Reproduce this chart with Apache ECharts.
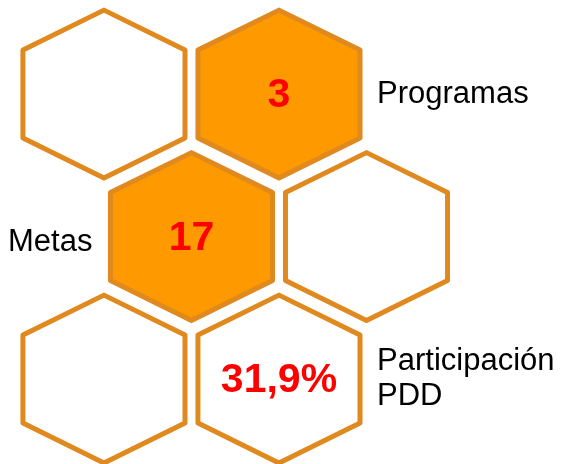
<!DOCTYPE html>
<html>
<head>
<meta charset="utf-8">
<script src="https://cdn.jsdelivr.net/npm/echarts@6/dist/echarts.min.js"></script>
<style>
  html, body { margin: 0; padding: 0; background: #fff; }
  #main { width: 562px; height: 464px; }
</style>
</head>
<body>
<div id="main"></div>
<script>
// honeycomb cells: lattice column / row
const hexCol = [0, 1, 0.5, 1.5, 0, 1]
const hexRow = [0, 0, 1, 1, 2, 2]
const hexFilled = [0, 1, 1, 0, 0, 0]
const hexValues = ['', '3', '17', '', '', '31,9%']
const hexLabels = ['', 'Programas', 'Metas', '', '', 'Participación\nPDD']

const FILL = '#FE9900'
const STROKE = '#E0891E'

const chart = echarts.init(document.getElementById('main'))

chart.setOption({
  animation: false,
  grid: { left: 0, right: 0, top: 0, bottom: 0 },
  xAxis: { type: 'value', min: -0.594, max: 2.617, show: false },
  yAxis: { type: 'value', min: -0.66, max: 2.596, inverse: true, show: false },
  series: [{
    type: 'custom',
    coordinateSystem: 'cartesian2d',
    data: hexCol.map((c, i) => [c, hexRow[i], hexFilled[i]]),
    renderItem(params, api) {
      const i = params.dataIndex
      const p = api.coord([api.value(0), api.value(1)])
      const unit = api.size([1, 1])
      const hw = unit[0] * 0.463
      const hh = unit[1] * 0.589
      const sh = unit[1] * 0.309
      const cx = p[0]
      const cy = p[1]
      const children = [{
        type: 'polygon',
        shape: {
          points: [
            [cx, cy - hh], [cx + hw, cy - sh], [cx + hw, cy + sh],
            [cx, cy + hh], [cx - hw, cy + sh], [cx - hw, cy - sh]
          ]
        },
        style: {
          fill: api.value(2) ? FILL : '#fff',
          stroke: STROKE,
          lineWidth: 5,
          lineJoin: 'round'
        }
      }]
      if (hexValues[i]) {
        children.push({
          type: 'text',
          x: cx,
          y: cy + 2,
          style: {
            text: hexValues[i],
            fill: '#FF0000',
            font: 'bold 41px "Liberation Sans", Arial, sans-serif',
            align: 'center',
            verticalAlign: 'middle'
          }
        })
      }
      if (hexLabels[i]) {
        const left = api.value(0) < 1
        children.push({
          type: 'text',
          x: left ? cx - hw - 18 : cx + hw + 17,
          y: left ? cy + 6 : cy,
          style: {
            text: hexLabels[i],
            fill: '#000',
            font: '31px "Liberation Sans", Arial, sans-serif',
            lineHeight: 35,
            align: left ? 'right' : 'left',
            verticalAlign: 'middle'
          }
        })
      }
      return { type: 'group', children }
    }
  }]
})
</script>
</body>
</html>
